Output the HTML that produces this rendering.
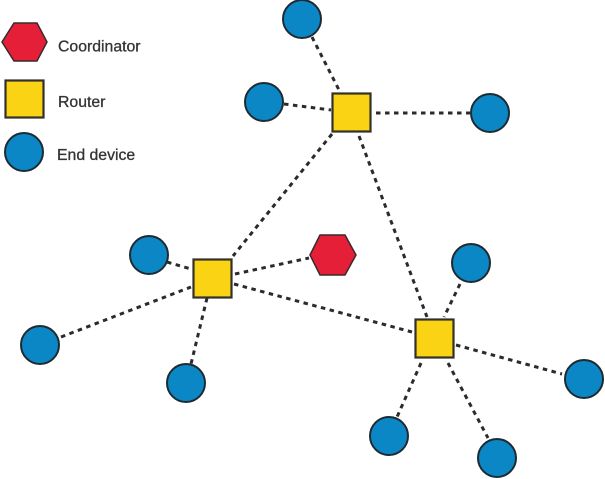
<!DOCTYPE html>
<html>
<head>
<meta charset="utf-8">
<style>
html,body{margin:0;padding:0;background:#fff;width:605px;height:479px;overflow:hidden}
svg{display:block}
text{font-family:"Liberation Sans",sans-serif;font-size:15.800px;fill:#333;stroke:#333;stroke-width:.3}
.c{fill:#0a87c4;stroke:#1f2a33;stroke-width:2}
.r{fill:#fad414;stroke:#33302a;stroke-width:2.2}
.h{fill:#e51f38;stroke:#3a2a2c;stroke-width:1.5}
.l{stroke:#2b2b2b;stroke-width:3;stroke-dasharray:4.500 4.500;fill:none}
</style>
</head>
<body>
<svg width="605" height="479" viewBox="0 0 605 479" xmlns="http://www.w3.org/2000/svg">
<g style="filter:blur(.35px)">
<line class="l" x1="312" y1="37" x2="339" y2="90"/>
<line class="l" x1="284" y1="104" x2="331" y2="110"/>
<line class="l" x1="376" y1="113" x2="470" y2="113"/>
<line class="l" x1="332" y1="134" x2="233" y2="256"/>
<line class="l" x1="359" y1="136" x2="427" y2="317"/>
<line class="l" x1="167" y1="262" x2="191" y2="269"/>
<line class="l" x1="235" y1="274" x2="309" y2="258"/>
<line class="l" x1="234" y1="284" x2="412" y2="332"/>
<line class="l" x1="61" y1="337" x2="191" y2="287"/>
<line class="l" x1="207" y1="298" x2="191" y2="364"/>
<line class="l" x1="460" y1="284" x2="444" y2="317"/>
<line class="l" x1="456" y1="345" x2="562" y2="374"/>
<line class="l" x1="421" y1="363" x2="397" y2="417"/>
<line class="l" x1="448" y1="363" x2="488" y2="438"/>
<polygon class="h" points="2,42 14,23 37,23 47,42 37,61 14,61"/>
<rect class="r" x="5.500" y="80.500" width="38" height="37"/>
<circle class="c" cx="24" cy="152" r="19"/>
<text x="58" y="51.500">Coordinator</text>
<text x="58" y="107">Router</text>
<text x="57" y="160">End device</text>
<circle class="c" cx="302" cy="19" r="19"/>
<circle class="c" cx="264" cy="102" r="19"/>
<circle class="c" cx="490" cy="113" r="19"/>
<rect class="r" x="332.500" y="93.500" width="38" height="38"/>
<circle class="c" cx="149" cy="255" r="19"/>
<rect class="r" x="193.500" y="259.500" width="38" height="38"/>
<polygon class="h" points="310,255 320,235 345,235 356,255 345,275 320,275"/>
<circle class="c" cx="40" cy="345" r="19"/>
<circle class="c" cx="186" cy="383" r="19"/>
<circle class="c" cx="471" cy="263" r="19"/>
<rect class="r" x="415.500" y="319.500" width="38" height="38"/>
<circle class="c" cx="584" cy="379" r="19"/>
<circle class="c" cx="389" cy="436" r="19"/>
<circle class="c" cx="497" cy="458" r="19"/>
</g>
</svg>
</body>
</html>
